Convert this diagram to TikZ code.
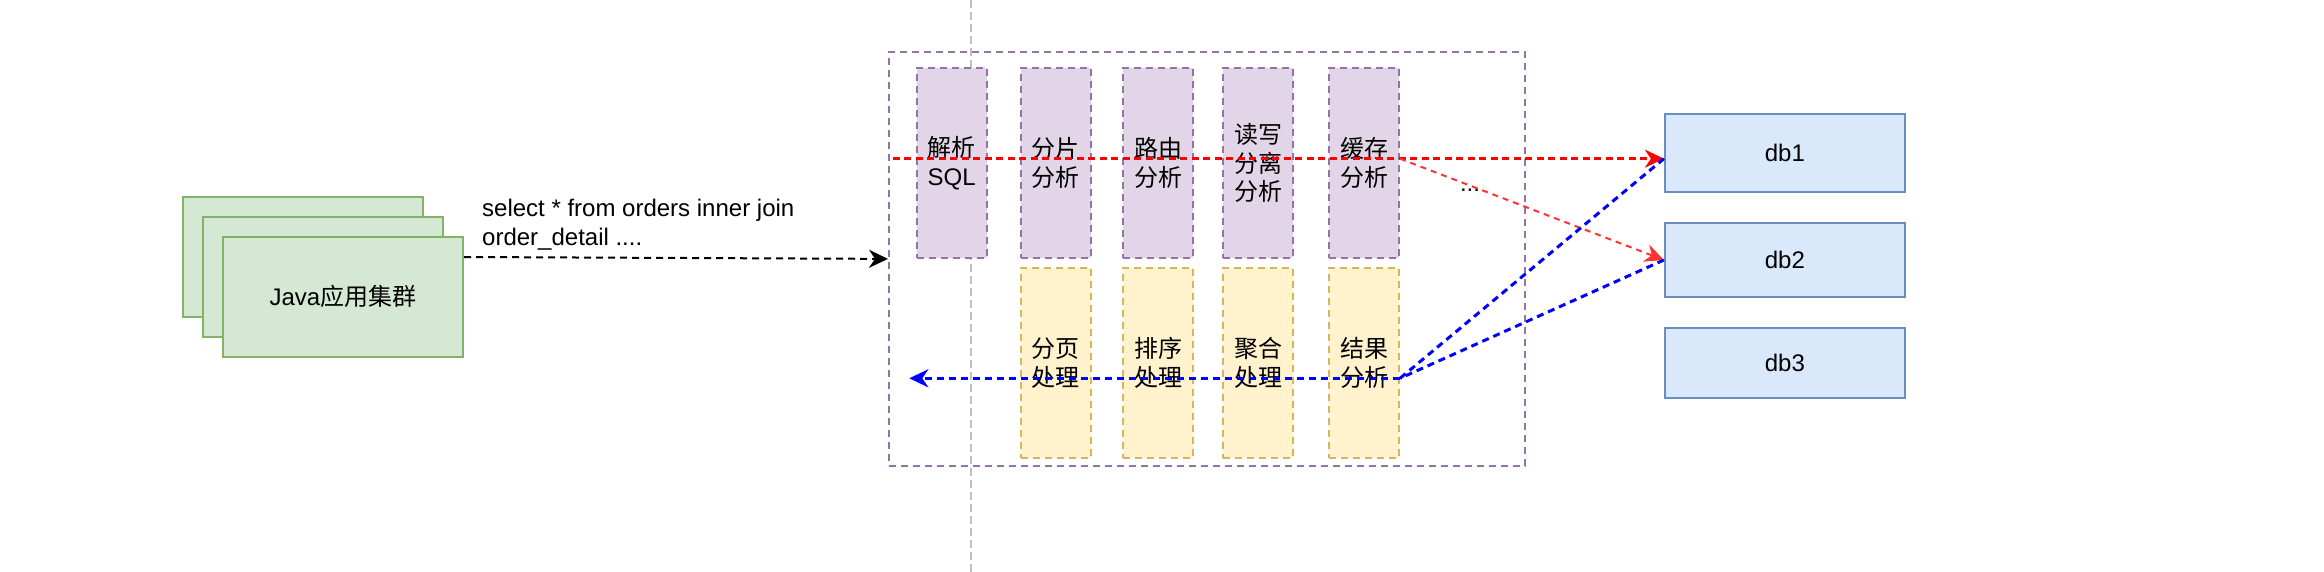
\documentclass[tikz,border=0pt]{standalone}
\usepackage{fontspec}
\setmainfont{Liberation Sans}
\newfontfamily\cjk{Noto Sans CJK SC}
\usetikzlibrary{arrows.meta}
\definecolor{gfill}{HTML}{D5E8D4}\definecolor{gline}{HTML}{82B366}
\definecolor{pfill}{HTML}{E1D5E7}\definecolor{pline}{HTML}{9673A6}
\definecolor{yfill}{HTML}{FFF2CC}\definecolor{yline}{HTML}{D6B656}
\definecolor{bfill}{HTML}{DAE8FC}\definecolor{bline}{HTML}{6C8EBF}
\definecolor{lred}{HTML}{FF3333}
\definecolor{sepgray}{HTML}{C0C0C0}
\begin{document}
\begin{tikzpicture}[x=1pt,y=-1pt,
  every node/.style={font=\fontsize{24}{28.5}\selectfont, inner sep=0pt, align=center},
  javabox/.style={draw=gline, fill=gfill, line width=2pt, minimum width=240pt, minimum height=120pt},
  phasebox/.style={draw=pline, fill=pfill, line width=2pt, dash pattern=on 7pt off 5pt, minimum width=70pt, minimum height=190pt},
  mergebox/.style={draw=yline, fill=yfill, line width=2pt, dash pattern=on 7pt off 5pt, minimum width=70pt, minimum height=190pt},
  dbbox/.style={draw=bline, fill=bfill, line width=2pt, minimum width=240pt},
  frame/.style={draw=pline, line width=2pt, dash pattern=on 7pt off 5pt, minimum width=636pt, minimum height=414pt},
  sepline/.style={draw=sepgray, line width=2pt, dash pattern=on 8pt off 4pt},
  tipc/.style={-{Stealth[length=19pt,width=18pt,inset=6pt]}},
  reqline/.style={tipc, draw=black, line width=2pt, dash pattern=on 7pt off 5pt},
  redline/.style={tipc, draw=red, line width=3pt, dash pattern=on 7pt off 4.5pt},
  redline2/.style={tipc, draw=lred, line width=2pt, dash pattern=on 6pt off 5pt},
  blueline/.style={draw=blue, line width=3pt, dash pattern=on 7pt off 5pt},
]
\useasboundingbox (0,0) rectangle (2324,572);

% separator
\draw[sepline] (970.7,0) -- (970.7,572);

% java cluster
\node[javabox] (java1) at (303,256.7) {};
\node[javabox] (java2) at (323,276.7) {};
\node[javabox] (java3) at (343,296.7) {Java{\cjk 应用集群}};

\node[anchor=base west, align=left] (sql) at (482,245.5) {select * from orders inner join\\order\_detail ....};

% container
\node[frame] (cont) at (1207,258.9) {};

% phase boxes
\node[phasebox] (p1) at (951.7,163) {{\cjk 解析}\\SQL};
\node[phasebox] (p2) at (1055.9,163) {\cjk 分片\\\cjk 分析};
\node[phasebox] (p3) at (1158,163) {\cjk 路由\\\cjk 分析};
\node[phasebox] (p4) at (1258,163) {\cjk 读写\\\cjk 分离\\\cjk 分析};
\node[phasebox] (p5) at (1364,163) {\cjk 缓存\\\cjk 分析};

\node[mergebox] (m2) at (1055.9,363) {\cjk 分页\\\cjk 处理};
\node[mergebox] (m3) at (1158,363) {\cjk 排序\\\cjk 处理};
\node[mergebox] (m4) at (1258,363) {\cjk 聚合\\\cjk 处理};
\node[mergebox] (m5) at (1364,363) {\cjk 结果\\\cjk 分析};

\node[anchor=base] (dots) at (1470,192) {...};

% databases
\node[dbbox, minimum height=78pt] (db1) at (1784.9,153) {db1};
\node[dbbox, minimum height=73.4pt] (db2) at (1784.9,260) {db2};
\node[dbbox, minimum height=69.7pt] (db3) at (1784.9,362.9) {db3};

% connectors
\coordinate (rs) at (892.7,158.7);
\coordinate (rd) at (p5.east |- rs);
\coordinate (db1in) at (db1.west |- rs);
\coordinate (bp) at (m5.east |- 0,378.3);
\coordinate (bend) at (909.3,378.3);

\draw[reqline] ([yshift=39.7pt]java3.east) -- (cont.west);
\draw[redline] (rs) -- (db1in);
\draw[redline2] (rd) -- (db2.west);
\draw[blueline] (db1in) -- (bp);
\draw[blueline] (db2.west) -- (bp);
\draw[blueline, tipc] (bp) -- (bend);
\end{tikzpicture}
\end{document}
